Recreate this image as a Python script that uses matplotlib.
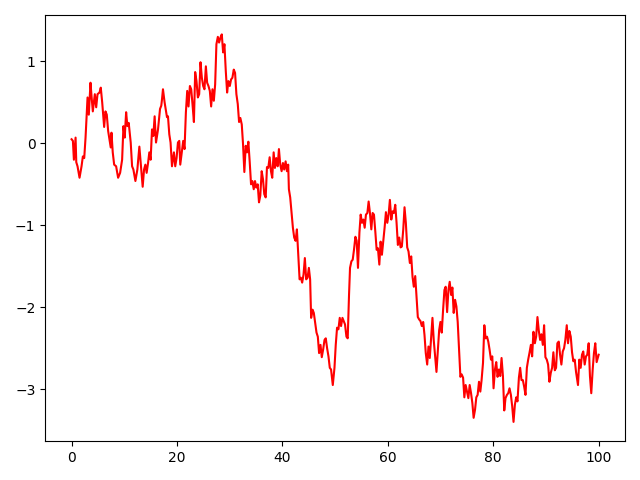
import numpy as np
import matplotlib
matplotlib.use("Agg")
import matplotlib.pyplot as plt

# values (random-walk-like trace)
t = [0, 0.25, 0.44, 0.76, 0.89, 1.13, 1.51, 1.89, 2.14, 2.40,
     2.65, 3.03, 3.27, 3.59, 3.78, 4.03, 4.41, 4.67, 4.92, 5.30,
     5.54, 5.81, 6.18, 6.43, 6.68, 6.94, 7.19, 7.43, 7.57, 7.81,
     8.08, 8.45, 8.83, 9.21, 9.59, 9.84, 10.08, 10.35, 10.59, 10.84,
     11.22, 11.48, 11.73, 12.11, 12.48, 12.86, 13.11, 13.49, 13.75, 14.00,
     14.24, 14.51, 14.75, 15.00, 15.26, 15.51, 15.76, 16.02, 16.40, 16.78,
     17.02, 17.16, 17.34, 17.65, 18.10, 18.29, 18.54, 18.78, 19.05, 19.42,
     19.67, 19.92, 20.18, 20.43, 20.62, 20.94, 21.18, 21.43, 21.69, 21.94,
     22.19, 22.45, 22.70, 22.94, 23.21, 23.45, 23.70, 23.96, 24.21, 24.46,
     24.72, 24.97, 25.21, 25.48, 25.72, 25.97, 26.23, 26.48, 26.73, 26.99,
     27.24, 27.48, 27.75, 27.99, 28.24, 28.50, 28.75, 29.00, 29.26, 29.51,
     29.75, 30.02, 30.26, 30.51, 30.77, 31.02, 31.27, 31.53, 31.78, 32.02,
     32.29, 32.53, 32.78, 33.04, 33.29, 33.54, 33.80, 34.05, 34.29, 34.56,
     34.80, 35.05, 35.31, 35.56, 35.80, 36.07, 36.32, 36.56, 36.83, 37.07,
     37.32, 37.58, 37.83, 38.07, 38.34, 38.58, 38.83, 39.10, 39.34, 39.59,
     39.85, 40.10, 40.34, 40.61, 40.86, 41.10, 41.23, 41.48, 41.74, 41.99,
     42.24, 42.50, 42.75, 42.99, 43.26, 43.50, 43.75, 44.01, 44.26, 44.51,
     44.77, 45.02, 45.26, 45.45, 45.72, 45.96, 46.21, 46.47, 46.72, 46.96,
     47.23, 47.47, 47.72, 47.99, 48.23, 48.48, 48.74, 48.99, 49.23, 49.56,
     49.88, 50.12, 50.37, 50.63, 50.88, 51.13, 51.39, 51.64, 51.88, 52.15,
     52.39, 52.64, 52.83, 53.09, 53.34, 53.58, 53.85, 54.09, 54.34, 54.61,
     54.85, 55.10, 55.36, 55.61, 55.85, 56.12, 56.36, 56.61, 56.87, 57.12,
     57.37, 57.63, 57.88, 58.12, 58.39, 58.63, 58.88, 59.14, 59.39, 59.64,
     59.90, 60.15, 60.39, 60.66, 60.90, 61.15, 61.41, 61.66, 61.91, 62.17,
     62.42, 62.66, 62.93, 63.17, 63.42, 63.68, 63.93, 64.18, 64.44, 64.69,
     64.93, 65.20, 65.44, 65.69, 65.95, 66.20, 66.45, 66.71, 66.96, 67.20,
     67.47, 67.71, 67.96, 68.22, 68.47, 68.71, 68.98, 69.23, 69.47, 69.74,
     69.98, 70.23, 70.49, 70.74, 70.98, 71.25, 71.50, 71.74, 72.01, 72.25,
     72.50, 72.76, 73.01, 73.26, 73.52, 73.77, 74.01, 74.28, 74.52, 74.77,
     75.03, 75.28, 75.53, 75.79, 76.04, 76.28, 76.55, 76.79, 77.04, 77.30,
     77.55, 77.79, 78.06, 78.31, 78.55, 78.82, 79.06, 79.31, 79.57, 79.82,
     80.06, 80.33, 80.57, 80.82, 81.08, 81.33, 81.58, 81.84, 82.09, 82.33,
     82.60, 82.84, 83.09, 83.35, 83.60, 83.85, 84.11, 84.36, 84.60, 84.87,
     85.11, 85.36, 85.62, 85.87, 86.12, 86.38, 86.63, 86.87, 87.14, 87.38,
     87.63, 87.90, 88.14, 88.39, 88.65, 88.90, 89.14, 89.41, 89.65, 89.90,
     90.16, 90.41, 90.66, 90.92, 91.17, 91.41, 91.68, 91.92, 92.17, 92.43,
     92.68, 92.93, 93.19, 93.44, 93.68, 93.95, 94.19, 94.44, 94.71, 94.95,
     95.20, 95.46, 95.71, 95.95, 96.08, 96.33, 96.59, 96.84, 97.08, 97.35,
     97.60, 97.84, 98.11, 98.35, 98.60, 98.87, 99.11, 99.36, 99.62, 100.0]

walk = [0.05, 0.03, -0.20, 0.07, -0.23, -0.28, -0.42, -0.28, -0.16, -0.18,
        0.07, 0.56, 0.35, 0.74, 0.58, 0.39, 0.60, 0.44, 0.60, 0.62,
        0.68, 0.50, 0.20, 0.39, 0.35, 0.15, 0.05, -0.05, 0.13, -0.11,
        -0.26, -0.28, -0.42, -0.36, -0.20, 0.21, 0.07, 0.38, 0.21, 0.25,
        0.01, -0.28, -0.32, -0.46, -0.32, -0.04, -0.24, -0.53, -0.32, -0.26,
        -0.36, -0.24, -0.11, -0.20, 0.17, 0.09, 0.33, 0.01, 0.17, 0.42,
        0.46, 0.54, 0.66, 0.50, 0.32, 0.33, 0.11, 0.01, -0.28, -0.11,
        -0.28, -0.18, 0.01, 0.03, -0.26, -0.09, 0.03, -0.07, 0.38, 0.64,
        0.45, 0.70, 0.66, 0.48, 0.26, 0.87, 0.76, 0.56, 0.60, 0.99,
        0.80, 0.70, 0.66, 0.94, 0.74, 0.70, 0.64, 0.45, 0.66, 0.52,
        0.72, 1.21, 1.30, 1.23, 1.29, 1.33, 1.11, 1.21, 0.88, 0.62,
        0.76, 0.70, 0.78, 0.80, 0.90, 0.86, 0.60, 0.48, 0.26, 0.31,
        0.23, -0.01, -0.35, -0.03, -0.11, 0.02, -0.23, -0.50, -0.46, -0.56,
        -0.46, -0.54, -0.50, -0.72, -0.64, -0.34, -0.44, -0.62, -0.66, -0.29,
        -0.30, -0.17, -0.34, -0.42, -0.11, -0.30, -0.18, -0.28, -0.07, -0.26,
        -0.34, -0.24, -0.32, -0.22, -0.34, -0.26, -0.56, -0.66, -0.85, -1.03,
        -1.15, -1.19, -1.05, -1.33, -1.66, -1.64, -1.70, -1.60, -1.40, -1.66,
        -1.64, -1.52, -1.66, -2.13, -2.03, -2.07, -2.19, -2.31, -2.36, -2.56,
        -2.46, -2.61, -2.52, -2.40, -2.38, -2.50, -2.60, -2.74, -2.76, -2.95,
        -2.74, -2.46, -2.25, -2.27, -2.13, -2.23, -2.13, -2.17, -2.21, -2.36,
        -2.38, -1.85, -1.52, -1.44, -1.42, -1.30, -1.14, -1.19, -1.52, -1.09,
        -0.87, -0.97, -0.93, -1.03, -0.87, -0.85, -0.71, -0.85, -1.05, -0.85,
        -0.87, -1.08, -1.30, -1.28, -1.48, -1.20, -1.36, -1.19, -1.03, -0.84,
        -0.97, -0.87, -0.69, -0.93, -0.83, -0.85, -0.75, -0.97, -1.24, -1.15,
        -1.27, -1.26, -1.05, -0.78, -0.97, -1.27, -1.32, -1.46, -1.38, -1.63,
        -1.75, -1.62, -1.87, -2.12, -2.15, -2.17, -2.23, -2.18, -2.34, -2.56,
        -2.70, -2.48, -2.62, -2.36, -2.13, -2.40, -2.60, -2.79, -2.54, -2.28,
        -2.18, -2.31, -2.03, -1.79, -1.75, -2.06, -1.79, -1.69, -1.85, -1.76,
        -2.07, -1.91, -1.99, -2.18, -2.52, -2.85, -2.82, -2.86, -3.10, -2.95,
        -3.03, -3.11, -2.95, -3.05, -3.17, -3.35, -3.25, -3.10, -3.07, -2.91,
        -3.03, -2.89, -2.68, -2.22, -2.38, -2.36, -2.42, -2.52, -2.64, -2.60,
        -2.99, -2.76, -2.67, -2.85, -2.76, -2.84, -2.62, -2.84, -3.26, -3.11,
        -3.07, -3.05, -2.99, -3.07, -3.21, -3.40, -3.19, -3.10, -3.15, -2.86,
        -2.74, -2.89, -2.89, -2.97, -3.07, -2.74, -2.64, -2.56, -2.46, -2.60,
        -2.30, -2.44, -2.36, -2.12, -2.29, -2.40, -2.33, -2.46, -2.22, -2.61,
        -2.64, -2.70, -2.91, -2.80, -2.74, -2.55, -2.77, -2.74, -2.44, -2.42,
        -2.58, -2.70, -2.54, -2.50, -2.40, -2.22, -2.44, -2.29, -2.36, -2.55,
        -2.66, -2.64, -2.79, -2.89, -2.95, -2.64, -2.74, -2.58, -2.54, -2.70,
        -2.60, -2.58, -2.44, -2.84, -3.05, -2.76, -2.56, -2.44, -2.67, -2.58]

fig, ax = plt.subplots(figsize=(6.4, 4.8), dpi=100)
ax.plot(t, walk, color="red")
plt.tight_layout()
plt.savefig("out.png")
